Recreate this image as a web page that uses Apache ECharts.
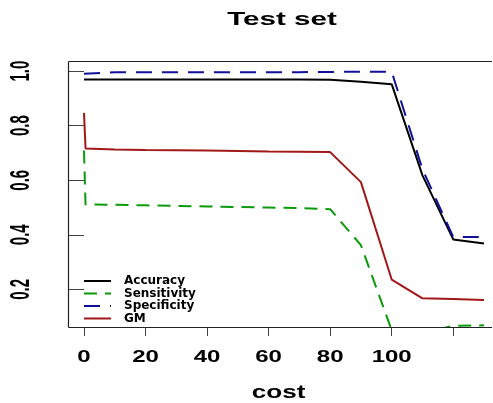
<!DOCTYPE html>
<html>
<head>
<meta charset="utf-8">
<script src="https://cdn.jsdelivr.net/npm/echarts@6/dist/echarts.min.js"></script>
<style>
html,body{margin:0;padding:0;background:#fff;}
#main{width:493px;height:403px;}
</style>
</head>
<body>
<div id="main"></div>
<script>
// data
var cost = [0, 0.5, 10, 20, 30, 40, 50, 60, 70, 80, 90, 100, 110, 120, 130];
var accuracy = [0.969, 0.969, 0.969, 0.969, 0.969, 0.969, 0.969, 0.969, 0.969, 0.968, 0.961, 0.952, 0.618, 0.383, 0.368];
var sensitivity = [0.709, 0.511, 0.510, 0.508, 0.506, 0.504, 0.502, 0.500, 0.498, 0.494, 0.362, 0.05, 0.04, 0.066, 0.068];
var specificity = [0.990, 0.996, 0.996, 0.996, 0.996, 0.996, 0.996, 0.996, 0.996, 0.997, 0.998, 0.998, 0.640, 0.392, 0.392];
var gm = [0.847, 0.716, 0.713, 0.711, 0.710, 0.709, 0.707, 0.705, 0.704, 0.703, 0.593, 0.236, 0.167, 0.165, 0.161];

var xTicks = [0, 20, 40, 60, 80, 100, 120];
var xLabels = ['0', '20', '40', '60', '80', '100'];
var yTicks = [0.2, 0.4, 0.6, 0.8, 1.0];
var yLabels = ['0.2', '0.4', '0.6', '0.8', '1.0'];

var xMin = -5.2, xMax = 135.2, yMin = 0.062, yMax = 1.037;

// plot area (pixels)
var gLeft = 68, gTop = 61, gBottom = 76, W = 493, H = 403;

function pairs(ys){
	var out = [];
	for(var i=0;i<cost.length;i++){
		out.push([cost[i], ys[i]]);
	}
	return out;
}

function mkSeries(name, ys, color, type, width){
	return {
		name: name,
		type: 'line',
		symbol: 'none',
		data: pairs(ys),
		lineStyle: {color: color, width: width, type: type},
		itemStyle: {color: color}
	};
}

var chart = echarts.init(document.getElementById('main'));
var option = {
	animation: false,
	backgroundColor: '#fff',
	grid: {
		left: gLeft, top: gTop, right: -7, bottom: gBottom,
		outerBoundsMode: 'none'
	},
	xAxis: {
		type: 'value', min: xMin, max: xMax,
		axisLine: {show: false},
		axisTick: {show: true, length: 9, customValues: xTicks, lineStyle: {color: '#444'}},
		axisLabel: {show: false},
		splitLine: {show: false}
	},
	yAxis: {
		type: 'value', min: yMin, max: yMax,
		axisLine: {show: false},
		axisTick: {show: true, length: 15, customValues: yTicks, lineStyle: {color: '#444'}},
		axisLabel: {show: false},
		splitLine: {show: false}
	},
	legend: {
		orient: 'vertical',
		left: 83, top: 275,
		padding: 0,
		itemWidth: 27, itemHeight: 10, itemGap: 0.5,
		itemStyle: {opacity: 0},
		textStyle: {fontFamily: 'DejaVu Sans', fontWeight: 'bold', fontSize: 12, color: '#000', lineHeight: 11, padding: [0,0,0,8]},
		data: ['Accuracy', 'Sensitivity', 'Specificity', 'GM']
	},
	series: [
		mkSeries('Accuracy', accuracy, '#000000', 'solid', 2),
		mkSeries('Sensitivity', sensitivity, '#0a9a0a', [13, 8], 2),
		mkSeries('Specificity', specificity, '#10109a', [16, 10], 2),
		mkSeries('GM', gm, '#a01818', 'solid', 2)
	]
};
chart.setOption(option);

var gfx = [];
// text drawn stretched horizontally like the reference picture
var font = 'Liberation Sans';
for(var i=0;i<xLabels.length;i++){
	var p = chart.convertToPixel({gridIndex: 0}, [xTicks[i], yMin]);
	gfx.push({type: 'text', x: p[0], y: p[1] + 30.5, scaleX: 1.5,
		style: {text: xLabels[i], fontFamily: font, fontWeight: 'bold', fontSize: 16, fill: '#000', align: 'center', verticalAlign: 'middle'}});
}
for(var j=0;j<yLabels.length;j++){
	var q = chart.convertToPixel({gridIndex: 0}, [xMin, yTicks[j]]);
	gfx.push({type: 'text', x: q[0] - 46.5, y: q[1], rotation: Math.PI/2, scaleY: 1.9,
		style: {text: yLabels[j], fontFamily: font, fontWeight: 'bold', fontSize: 15, fill: '#000', align: 'center', verticalAlign: 'middle'}});
}
gfx.push({type: 'text', x: 282, y: 20, scaleX: 1.6,
	style: {text: 'Test set', fontFamily: font, fontWeight: 'bold', fontSize: 18.5, fill: '#000', align: 'center', verticalAlign: 'middle'}});
gfx.push({type: 'text', x: 278.5, y: 393, scaleX: 1.45,
	style: {text: 'cost', fontFamily: font, fontWeight: 'bold', fontSize: 18, fill: '#000', align: 'center', verticalAlign: 'middle'}});

// box round the plot (its right side falls outside the picture)
var bx = gLeft + 0.5, byTop = gTop + 0.5, byBot = H - gBottom + 0.5;
var boxStyle = {stroke: '#222', lineWidth: 1.2};
gfx.push({type: 'line', z: 10, shape: {x1: bx, y1: byTop, x2: W - 1, y2: byTop}, style: boxStyle});
gfx.push({type: 'line', z: 10, shape: {x1: bx, y1: byTop, x2: bx, y2: byBot}, style: boxStyle});
gfx.push({type: 'line', z: 10, shape: {x1: bx, y1: byBot, x2: W - 1, y2: byBot}, style: boxStyle});
chart.setOption({graphic: gfx});
</script>
</body>
</html>
